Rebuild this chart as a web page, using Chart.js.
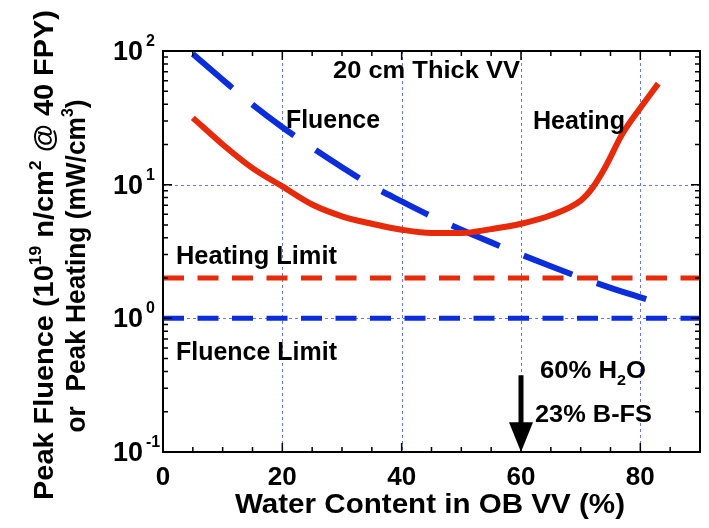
<!DOCTYPE html>
<html>
<head>
<meta charset="utf-8">
<script src="https://cdn.jsdelivr.net/npm/chart.js@4.4.1/dist/chart.umd.min.js"></script>
<style>
  html, body { margin: 0; padding: 0; background: #fff; }
  #wrap { width: 709px; height: 528px; }
</style>
</head>
<body>
<div id="wrap"><canvas id="grafico" width="709" height="528"></canvas></div>
<script>
// dados
const heatingX = [5, 10, 15, 20, 25, 30, 35, 40, 45, 50, 55, 60, 65, 70, 72, 74, 77, 80, 83];
const heatingY = [31.6, 20, 13.3, 9.7, 7.1, 5.8, 5.1, 4.6, 4.35, 4.35, 4.65, 5.1, 5.9, 7.6, 9.5, 13.2, 24, 37.5, 57];
const fluenceX = [5, 10, 15, 20, 25, 30, 35, 40, 45, 50, 55, 60, 65, 70, 75, 81];
const fluenceY = [95, 61, 39.7, 26.9, 18.9, 13.5, 9.8, 7.5, 5.8, 4.6, 3.7, 3.0, 2.45, 2.02, 1.69, 1.39];
const limitX = [0, 90];
const heatingLimit = 2;
const fluenceLimit = 1;
const xTicks = [0, 20, 40, 60, 80];
const yTicks = [0.1, 1, 10, 100];
const yExps = ['-1', '0', '1', '2'];
const arrowX = 60;
const arrowY = [0.375, 0.167, 0.1]; // topo, início da ponta, ponta

const RED = '#e62a0a';
const BLUE = '#0b2ddb';
const GRID = '#6478f0';
const FONT = '"Liberation Sans", Arial, sans-serif';

function pts(xs, ys) { return xs.map((x, i) => ({ x: x, y: ys[i] })); }

// texto com sobrescrito/subscrito, opcionalmente ajustado a uma largura
function rich(ctx, parts, x, y, size, align, fitW) {
  const small = Math.round(size * 0.62);
  let total = 0;
  const w = parts.map(p => {
    ctx.font = 'bold ' + (p[1] ? small : size) + 'px ' + FONT;
    const m = ctx.measureText(p[0]).width;
    total += m;
    return m;
  });
  const sx = fitW ? fitW / total : 1;
  ctx.save();
  ctx.translate(x, y);
  ctx.scale(sx, 1);
  let cur = align === 'center' ? -total / 2 : align === 'right' ? -total : 0;
  ctx.textAlign = 'left';
  ctx.textBaseline = 'alphabetic';
  parts.forEach((p, i) => {
    ctx.font = 'bold ' + (p[1] ? small : size) + 'px ' + FONT;
    const dy = p[1] === 1 ? -size * 0.42 : p[1] === -1 ? size * 0.3 : 0;
    ctx.fillText(p[0], cur, dy);
    cur += w[i];
  });
  ctx.restore();
}

const moldura = {
  id: 'moldura',
  beforeDatasetsDraw(chart) {
    const { ctx, chartArea: a, scales: { x, y } } = chart;
    ctx.save();
    ctx.strokeStyle = GRID;
    ctx.lineWidth = 1;
    ctx.setLineDash([3, 3]);
    [20, 40, 60, 80].forEach(v => {
      const px = Math.round(x.getPixelForValue(v)) + 0.5;
      ctx.beginPath(); ctx.moveTo(px, a.top); ctx.lineTo(px, a.bottom); ctx.stroke();
    });
    [1, 10].forEach(v => {
      const py = Math.round(y.getPixelForValue(v)) + 0.5;
      ctx.beginPath(); ctx.moveTo(a.left, py); ctx.lineTo(a.right, py); ctx.stroke();
    });
    ctx.restore();
  },
  afterDatasetsDraw(chart) {
    const { ctx, chartArea: a, scales: { x, y } } = chart;
    ctx.save();
    ctx.setLineDash([]);
    ctx.strokeStyle = '#000';
    ctx.fillStyle = '#000';
    ctx.lineWidth = 2;
    ctx.strokeRect(a.left, a.top, a.right - a.left, a.bottom - a.top);

    // marcas internas
    ctx.lineWidth = 1.5;
    ctx.beginPath();
    for (let v = 0; v <= 90; v += 5) {
      const px = x.getPixelForValue(v);
      const len = v % 20 === 0 ? 9 : 5;
      ctx.moveTo(px, a.bottom); ctx.lineTo(px, a.bottom - len);
      ctx.moveTo(px, a.top); ctx.lineTo(px, a.top + len);
    }
    for (let d = 0.1; d < 100; d *= 10) {
      for (let k = 1; k <= 10; k++) {
        const py = y.getPixelForValue(d * k);
        const len = (k === 1 || k === 10) ? 9 : 5;
        ctx.moveTo(a.left, py); ctx.lineTo(a.left + len, py);
        ctx.moveTo(a.right, py); ctx.lineTo(a.right - len, py);
      }
    }
    ctx.stroke();

    // rótulos dos eixos
    xTicks.forEach(v => rich(ctx, [[String(v), 0]], x.getPixelForValue(v), 485, 26, 'center'));
    yTicks.forEach((v, i) => {
      const py = y.getPixelForValue(v);
      rich(ctx, [['10', 0]], 143, py + 9, 27, 'right');
      rich(ctx, [[yExps[i], 0]], 146, py - 5, 16, 'left');
    });
    rich(ctx, [['Water Content in OB VV (%)', 0]], 430, 513, 27, 'center', 390);

    ctx.save();
    ctx.translate(53, 255);
    ctx.rotate(-Math.PI / 2);
    rich(ctx, [['Peak Fluence (10', 0], ['19', 1], [' n/cm', 0], ['2', 1], [' @ 40 FPY)', 0]], 0, 0, 28, 'center', 490);
    ctx.restore();
    ctx.save();
    ctx.translate(85, 266);
    ctx.rotate(-Math.PI / 2);
    rich(ctx, [['or  Peak Heating (mW/cm', 0], ['3', 1], [')', 0]], 0, 0, 28, 'center', 333);
    ctx.restore();

    // anotações
    rich(ctx, [['20 cm Thick VV', 0]], 333, 78, 24, 'left', 187);
    rich(ctx, [['Fluence', 0]], 286, 128, 25, 'left', 94);
    rich(ctx, [['Heating', 0]], 533, 129, 25, 'left', 92);
    rich(ctx, [['Heating Limit', 0]], 176, 264, 25, 'left', 161);
    rich(ctx, [['Fluence Limit', 0]], 176, 360, 25, 'left', 161);
    rich(ctx, [['60% H', 0], ['2', -1], ['O', 0]], 540, 378, 24, 'left', 106);
    rich(ctx, [['23% B-FS', 0]], 535, 422, 24, 'left', 117);

    // seta em 60%
    const ax = x.getPixelForValue(arrowX);
    const y0 = y.getPixelForValue(arrowY[0]);
    const y1 = y.getPixelForValue(arrowY[1]);
    const y2 = y.getPixelForValue(arrowY[2]);
    ctx.fillRect(ax - 2.5, y0, 5, y1 - y0 + 1);
    ctx.beginPath();
    ctx.moveTo(ax - 12, y1); ctx.lineTo(ax + 12, y1); ctx.lineTo(ax, y2);
    ctx.closePath();
    ctx.fill();
    ctx.restore();
  }
};

const config = {
  type: 'line',
  data: {
    datasets: [
      {
        label: 'Heating',
        data: pts(heatingX, heatingY),
        borderColor: RED,
        borderWidth: 6,
        pointRadius: 0,
        cubicInterpolationMode: 'monotone'
      },
      {
        label: 'Fluence',
        data: pts(fluenceX, fluenceY),
        borderColor: BLUE,
        borderWidth: 6,
        borderDash: [52, 26],
        pointRadius: 0,
        cubicInterpolationMode: 'monotone'
      },
      {
        label: 'Heating Limit',
        data: pts(limitX, [heatingLimit, heatingLimit]),
        borderColor: RED,
        borderWidth: 5,
        borderDash: [21, 13.5],
        pointRadius: 0
      },
      {
        label: 'Fluence Limit',
        data: pts(limitX, [fluenceLimit, fluenceLimit]),
        borderColor: BLUE,
        borderWidth: 5,
        borderDash: [21, 13.5],
        pointRadius: 0
      }
    ]
  },
  options: {
    responsive: false,
    animation: false,
    layout: { padding: { left: 163, top: 51, right: 9, bottom: 76 } },
    plugins: { legend: { display: false }, tooltip: { enabled: false } },
    scales: {
      x: { type: 'linear', min: 0, max: 90, display: false },
      y: { type: 'logarithmic', min: 0.1, max: 100, display: false }
    }
  },
  plugins: [moldura]
};

const ctx = document.getElementById('grafico').getContext('2d');
new Chart(ctx, config);
</script>
</body>
</html>
